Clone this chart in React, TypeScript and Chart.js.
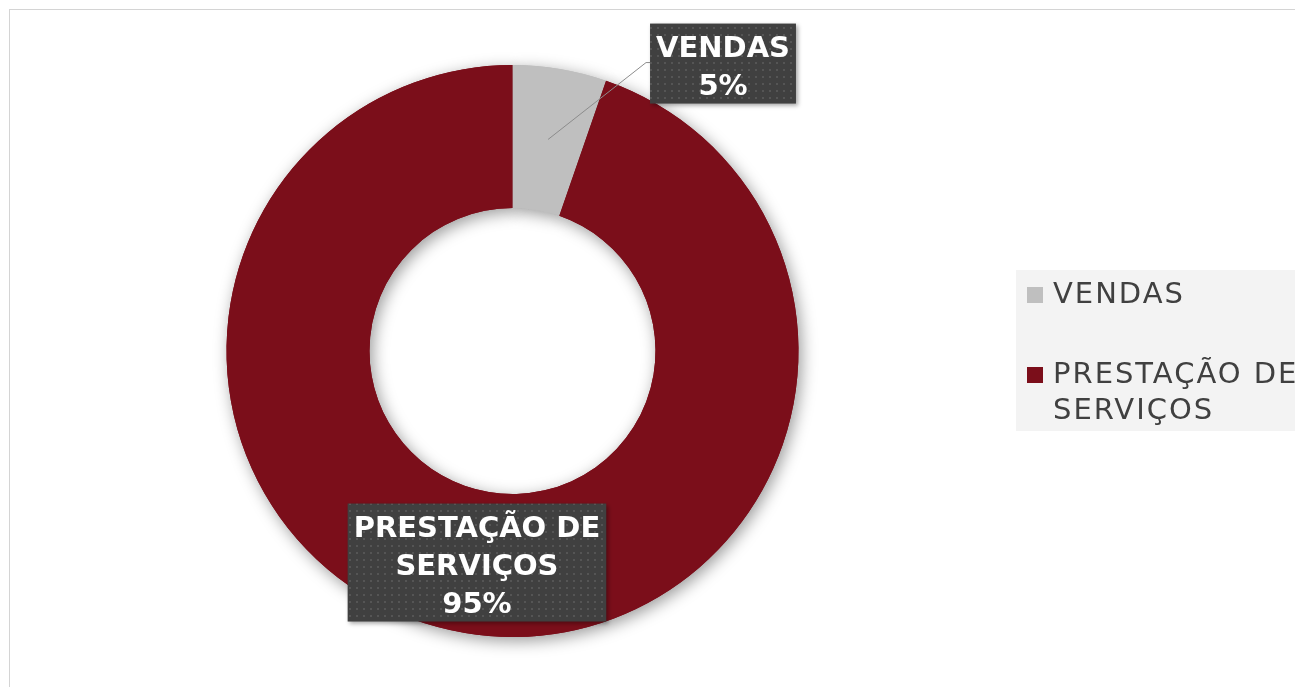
import React, { useEffect, useRef } from "react";
import { Chart, registerables } from "chart.js";

Chart.register(...registerables);

const categories = ["VENDAS", "PRESTAÇÃO DE SERVIÇOS"];
const values = [5.3, 94.7];
const sliceColors = ["#BFBFBF", "#7B0E1A"];

function wrapText(ctx: CanvasRenderingContext2D, text: string, maxWidth: number): string[] {
  const words = text.split(" ");
  const lines: string[] = [];
  let cur = "";
  for (const w of words) {
    const test = cur ? cur + " " + w : w;
    if (ctx.measureText(test).width > maxWidth && cur) {
      lines.push(cur);
      cur = w;
    } else {
      cur = test;
    }
  }
  if (cur) lines.push(cur);
  return lines;
}

function makePattern(ctx: CanvasRenderingContext2D): CanvasPattern | string {
  const c = document.createElement("canvas");
  c.width = 7;
  c.height = 7;
  const p = c.getContext("2d");
  if (!p) return "#404040";
  p.fillStyle = "#404040";
  p.fillRect(0, 0, 7, 7);
  p.fillStyle = "#555555";
  p.fillRect(3, 3, 2, 2);
  return ctx.createPattern(c, "repeat") || "#404040";
}

const shadowPlugin = {
  id: "ringShadow",
  beforeDatasetsDraw(chart: any) {
    const ctx: CanvasRenderingContext2D = chart.ctx;
    const meta = chart.getDatasetMeta(0);
    ctx.save();
    ctx.shadowColor = "rgba(0,0,0,0.4)";
    ctx.shadowBlur = 16;
    ctx.shadowOffsetX = 3;
    ctx.shadowOffsetY = 4;
    meta.data.forEach((el: any) => el.draw(ctx, chart.chartArea));
    ctx.restore();
  },
};

const dataLabelPlugin = {
  id: "boxLabels",
  afterDatasetsDraw(chart: any) {
    const ctx: CanvasRenderingContext2D = chart.ctx;
    const meta = chart.getDatasetMeta(0);
    const data: number[] = chart.data.datasets[0].data;
    const labels: string[] = chart.data.labels;
    const total = data.reduce((a, b) => a + b, 0);
    const pattern = makePattern(ctx);
    meta.data.forEach((arc: any, i: number) => {
      const p = arc.getProps(["x", "y", "outerRadius"], true);
      const cx = p.x, cy = p.y, R = p.outerRadius;
      const pos = arc.tooltipPosition(true);
      ctx.save();
      ctx.font = "bold 29px 'DejaVu Sans'";
      const lines = [...wrapText(ctx, labels[i], 260), Math.round((data[i] / total) * 100) + "%"];
      const tw = Math.max(...lines.map((l) => ctx.measureText(l).width));
      const w = tw + 12;
      const h = lines.length * 38 + 4;
      let bx = pos.x, by = pos.y;
      if (i === 0) {
        bx = cx + 0.736 * R;
        by = cy - 1.005 * R;
      }
      const left = bx - w / 2;
      const top = by - h / 2;
      if (i === 0) {
        ctx.strokeStyle = "#8c8c8c";
        ctx.lineWidth = 1;
        ctx.beginPath();
        ctx.moveTo(pos.x, pos.y);
        ctx.lineTo(left - 4, by - 1);
        ctx.lineTo(left, by - 1);
        ctx.stroke();
      }
      ctx.save();
      ctx.shadowColor = "rgba(0,0,0,0.35)";
      ctx.shadowBlur = 4;
      ctx.shadowOffsetX = 2;
      ctx.shadowOffsetY = 2;
      ctx.fillStyle = pattern as any;
      ctx.fillRect(left, top, w, h);
      ctx.restore();
      ctx.fillStyle = "#ffffff";
      ctx.textAlign = "center";
      ctx.textBaseline = "alphabetic";
      lines.forEach((l, k) => ctx.fillText(l, bx, top + 33 + k * 38));
      ctx.restore();
    });
  },
};

const legendPlugin = {
  id: "sideLegend",
  afterDraw(chart: any) {
    const ctx: CanvasRenderingContext2D = chart.ctx;
    const labels: string[] = chart.data.labels;
    const colors: string[] = chart.data.datasets[0].backgroundColor;
    const o = chart.options.plugins.sideLegend;
    ctx.save();
    ctx.fillStyle = "#f3f3f3";
    ctx.fillRect(o.x, o.y, chart.width - o.x, o.h);
    ctx.font = "29px 'DejaVu Sans'";
    (ctx as any).letterSpacing = "2px";
    ctx.textAlign = "left";
    ctx.textBaseline = "alphabetic";
    let base = o.y + 33;
    labels.forEach((lab, i) => {
      const lines = wrapText(ctx, lab, 260);
      ctx.fillStyle = colors[i];
      ctx.fillRect(o.x + 11, base - 16, 16, 16);
      ctx.fillStyle = "#404040";
      lines.forEach((l, k) => {
        ctx.fillText(l, o.x + 37, base + k * 36);
      });
      base += 80 + (lines.length - 1) * 36;
    });
    (ctx as any).letterSpacing = "0px";
    ctx.restore();
  },
};

export default function App() {
  const ref = useRef<HTMLCanvasElement | null>(null);
  useEffect(() => {
    if (!ref.current) return;
    const chart = new Chart(ref.current, {
      type: "doughnut",
      data: {
        labels: categories,
        datasets: [
          {
            data: values,
            backgroundColor: sliceColors,
            borderWidth: 0,
            hoverOffset: 0,
          },
        ],
      },
      options: {
        responsive: true,
        maintainAspectRatio: false,
        animation: false,
        cutout: "50%",
        layout: { padding: { left: 216.5, top: 55, right: 531.5, bottom: 50 } },
        plugins: {
          legend: { display: false },
          tooltip: { enabled: false },
          sideLegend: { x: 1006, y: 260, h: 161 },
        } as any,
      },
      plugins: [shadowPlugin, dataLabelPlugin, legendPlugin],
    });
    return () => chart.destroy();
  }, []);
  return (
    <div style={{ position: "fixed", left: 0, top: 0, width: 1295, height: 687, overflow: "hidden", background: "#fff" }}>
      <div
        style={{
          position: "absolute",
          left: 9,
          top: 9,
          width: 1320,
          height: 700,
          borderTop: "1px solid #d4d4d4",
          borderLeft: "1px solid #d4d4d4",
        }}
      >
        <div style={{ position: "relative", width: 1320, height: 677 }}>
          <canvas ref={ref} />
        </div>
      </div>
    </div>
  );
}
